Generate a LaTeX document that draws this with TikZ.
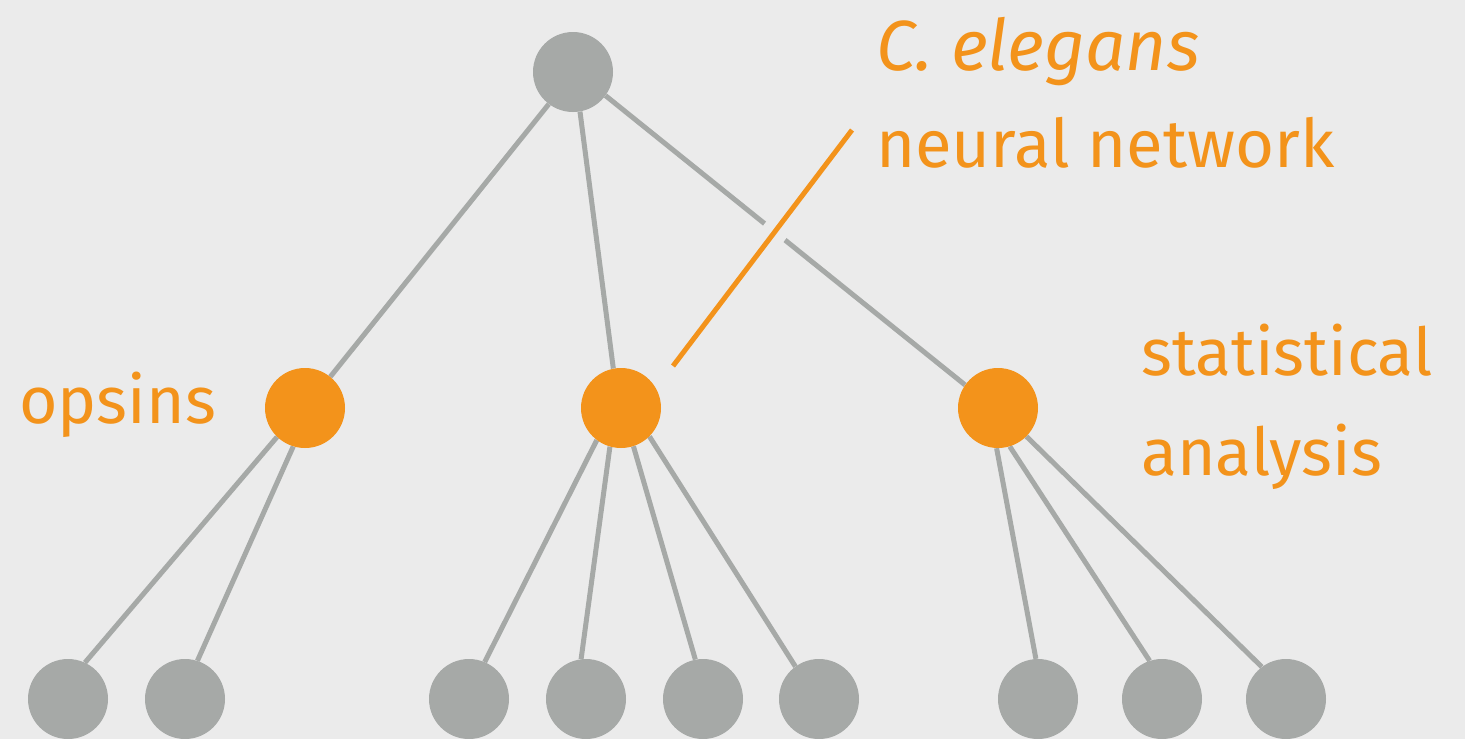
\documentclass[tikz,border=0pt]{standalone}
\usepackage{fontspec}
\setmainfont{Fira Sans}
\definecolor{bgc}{HTML}{EBEBEB}
\definecolor{grayc}{HTML}{A6A9A7}
\definecolor{orangec}{HTML}{F3931B}
\pgfdeclarelayer{backdrop}
\pgfdeclarelayer{edgelayer}
\pgfsetlayers{backdrop,edgelayer,main}
\begin{document}
\begin{tikzpicture}[x=1pt,y=-1pt,
  dot/.style={circle,fill=grayc,draw=none,minimum size=80pt,inner sep=0pt},
  odot/.style={circle,fill=orangec,draw=none,minimum size=80pt,inner sep=0pt},
  edge/.style={draw=grayc,line width=5pt},
  lbl/.style={text=orangec,inner sep=0pt,anchor=base west,font=\fontsize{66}{70}\selectfont},
  pointer/.style={draw=orangec,line width=5pt,preaction={draw=bgc,line width=26pt}}]
\begin{pgfonlayer}{backdrop}
\fill[bgc] (0,0) rectangle (1465,739);
\end{pgfonlayer}
\useasboundingbox (0,0) rectangle (1465,739);
% nodes
\node[dot]  (r)  at (573,72) {};
\node[odot] (o)  at (305,408) {};
\node[odot] (m)  at (621,408) {};
\node[odot] (s)  at (998,408) {};
\node[dot]  (b1) at (68,699) {};
\node[dot]  (b2) at (185,699) {};
\node[dot]  (b3) at (469,699) {};
\node[dot]  (b4) at (586,699) {};
\node[dot]  (b5) at (703,699) {};
\node[dot]  (b6) at (819,699) {};
\node[dot]  (b7) at (1038,699) {};
\node[dot]  (b8) at (1162,699) {};
\node[dot]  (b9) at (1286,699) {};
% edges (behind nodes)
\begin{pgfonlayer}{edgelayer}
\path[edge] (r.233) -- (o.51);
\path[edge] (r.-80) -- (m.101);
\path[edge] (r.-36) -- (s.145);
\path[edge] (o.226) -- (b1.65);
\path[edge] (o.253) -- (b2.72);
\path[edge] (m.233) -- (b3.67);
\path[edge] (m.254) -- (b4.97);
\path[edge] (m.288) -- (b5.101);
\path[edge] (m.315) -- (b6.126);
\path[edge] (s.268) -- (b7.93);
\path[edge] (s.287) -- (b8.108);
\path[edge] (s.315) -- (b9.127);
\end{pgfonlayer}
% pointer
\coordinate (pt) at (852,130);
\coordinate (pb) at (673,366);
\path[pointer] (pt) -- (pb);
% labels
\node[lbl,font=\fontsize{71}{75}\selectfont\itshape] (l1) at (876,70) {C. elegans};
\node[lbl,font=\fontsize{67}{70}\selectfont] (l2) at (876,167) {neural network};
\node[lbl] (l3) at (19,423) {opsins};
\node[lbl] (l4) at (1141,375) {statistical};
\node[lbl] (l5) at (1141,475) {analysis};
\end{tikzpicture}
\end{document}
